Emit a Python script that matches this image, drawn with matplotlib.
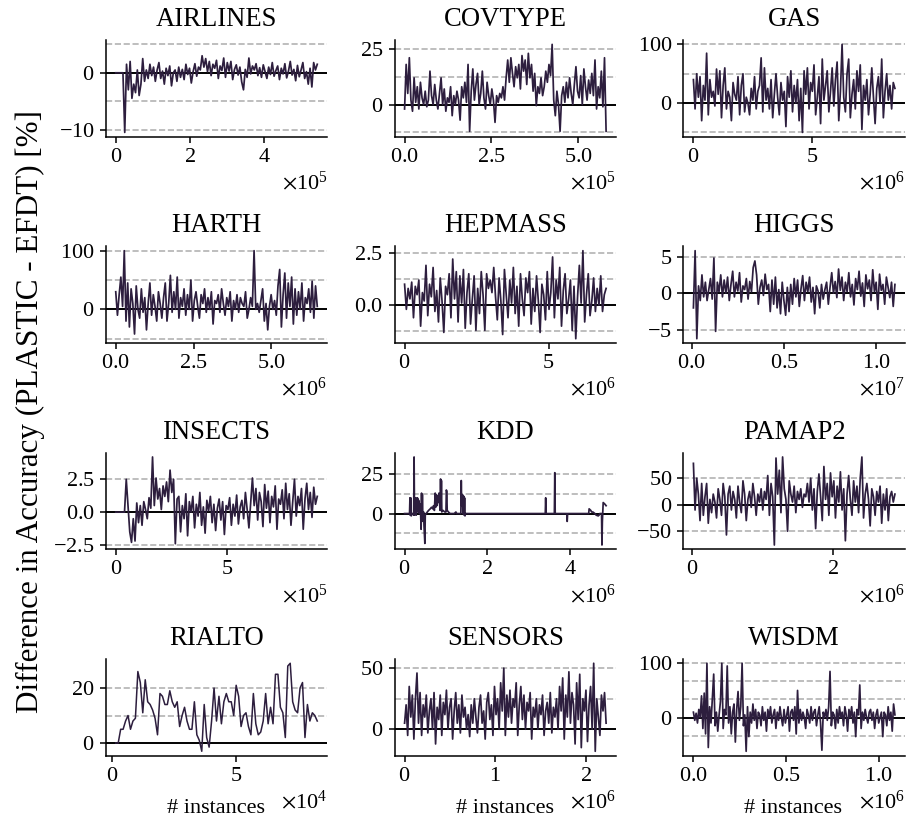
import numpy as np
import matplotlib
matplotlib.use("Agg")
import matplotlib.pyplot as plt

plt.rcParams.update({
    "font.family": "serif",
    "font.serif": ["Liberation Serif", "DejaVu Serif"],
    "mathtext.fontset": "stix",
    "axes.formatter.use_mathtext": True,
    "font.size": 16,
})

datasets = ["AIRLINES", "COVTYPE", "GAS", "HARTH", "HEPMASS", "HIGGS",
            "INSECTS", "KDD", "PAMAP2", "RIALTO", "SENSORS", "WISDM"]

# ---- sampled series: (first instance, last instance) and values (%) ----
airlines_span = [0, 5.42e5]
airlines_diff = [0, 0, 0, 0, 0, -10.5, 1.5, -3, 2, -4.5, -2, -3.5, 0.5, -4, -2, 2.5, -1.5, 0.5, -1, 1.5,
                 -0.5, 1, -1.5, 0.5, 1.8, -1, 0.3, -2, 0.8, -0.5, 1.2, -2.3, 0, 0.5, -1.5, 1, -0.8, 0.6,
                 -1.2, 1.5, -0.3, 0.8, -1.8, 0.2, 1.6, -0.6, 1, 0.5, 3, 1, 2.5, 0.2, 2, -0.5, 1.5, 0.8,
                 2.2, -1, 1.2, 0.4, 2.6, -0.8, 1.8, 0.3, 2, -1.2, 0.6, 1.4, -0.4, 1, -1.6, -3, 0.6, -0.8,
                 2.6, -0.2, 1.2, 0.5, 1.6, -0.5, 0.9, -0.8, 1.4, 0.2, -1, 1, -0.3, 1.8, -0.6, 0.4, 1.2,
                 -1.2, 0.8, -0.2, 1.6, -0.9, 0.3, 2, -0.4, 0.6, -1.4, 1.3, -0.7, 0.5, 1.8, -1, 0.2, -2,
                 0.8, -2.5, 1.8, 0.5, 1.5]

covtype_span = [0, 5.81e5]
covtype_diff = [-2, 18, 5, 21, 2, -3, 12, 1, 8, -2, 10, 3, 0, 6, -1, 2, 15, 4, 0, 9, 2, -2, 5, 12, 0, 7,
                -3, 3, 1, 8, -5, 4, 0, 6, 2, -7, 8, 3, 10, 1, 18, -12, 6, 16, 2, 9, 14, 0, 5, 15, 3, -2,
                10, 4, 0, 7, 2, -8, 4, 1, 5, 3, 8, 2, 12, 20, 10, 21, 14, 8, 17, 12, 18, 7, 22, 15, 20,
                9, 23, 12, 18, 6, 14, -0.5, 8, 5, 12, 4, 8, 15, 10, 18, 13, 27, 2, -5, 6, 0, -12, 4, 8,
                1, 10, 3, 12, 5, 0, 9, 17, 6, 3, 13, 0, 16, 8, 2, 11, 5, 14, 4, 20, -2, 8, 3, 15, -1,
                21, -12]

gas_span = [0, 8.47e6]
gas_diff = [40, -10, 50, 10, 45, -30, 30, 5, 85, -20, 40, 10, 20, -5, 58, 15, 55, -25, 30, 60, -10, 20,
            10, -30, 35, 15, 5, 45, -20, 30, 50, -15, 10, 0, -20, 25, 5, 45, -10, 20, 30, 77, -15, 60, 5,
            25, -10, 40, -25, 15, 50, 10, -20, 35, 5, 20, -40, 45, 10, 55, -15, 30, 0, 40, -30, 25, -50,
            55, 15, 60, -10, 35, 20, 65, -20, 10, 45, -35, 75, 5, 30, 55, -15, 20, 60, -5, 40, 70, -30,
            20, 100, 10, -15, 50, 75, -25, 15, 40, -10, 55, 20, 65, -45, 30, 5, 40, -20, 15, 60, 10,
            -35, 25, 45, 0, 75, -25, 20, 50, 5, 30, -10, 35, 25]

harth_span = [0, 6.47e6]
harth_diff = [30, -10, 25, 55, 5, 100, -20, 45, -30, 35, 10, -42, 40, 0, -15, 35, -5, 20, -35, 10, 45,
              -10, 25, 5, -20, 30, 10, -15, 20, 45, -20, 10, 58, -5, 30, 0, 55, -15, 20, 5, 35, -10, 25,
              0, 50, -20, 15, 30, 5, -15, 25, 10, 35, -5, 20, 0, 30, -25, 15, 10, 25, -5, 35, 10, -10,
              20, 5, 30, -20, 15, 0, 25, -5, 20, 10, 5, 30, -15, 0, 20, 5, 100, 0, 10, -5, 15, 35, -20,
              10, -35, 5, 25, 0, 15, -10, 40, 68, -30, 25, 62, -15, 45, 5, 55, -25, 35, -10, 30, 0, 45,
              -20, 20, 10, 35, -5, 48, -15, 40, 5]

hepmass_span = [0, 7.0e6]
hepmass_diff = [1.0, -0.2, 0.8, 0.3, 1.1, -0.6, 0.9, 0.5, 1.2, -1.0, 0.6, 0.2, 1.9, -0.5, 1.0, 0.4, 1.8,
                -0.3, 0.7, -0.8, 1.3, 0.2, -1.3, 0.9, 0.5, 1.5, -0.6, 2.2, 0.3, 1.6, -0.8, 1.4, 0.1, 1.7,
                -1.1, 0.6, 1.5, -0.9, 0.3, 1.4, -1.2, 0.8, -0.4, 1.6, 0.5, -1.2, 1.5, 0.8, 1.2, 0.6, 1.8,
                0.4, -0.7, 1.3, 0.2, -1.4, 1.7, 0.5, -0.6, 1.2, 0.1, 1.8, -0.4, 0.9, -1.0, 1.5, 0.3, -0.5,
                1.3, 0.6, 1.6, -0.9, 0.8, -0.3, 1.4, 0.2, -1.3, 1.0, 0.5, -0.7, 1.6, -0.2, 0.6, 2.3, -0.6,
                1.2, 0.3, 1.8, -1.0, 0.7, 1.5, -0.4, 0.3, 1.2, -1.2, 0.9, -1.6, 0.4, 1.9, 0.1, 2.6, -0.8,
                0.5, 1.5, -0.5, 0.2, 1.3, -0.3, 0.8, 0.0, 1.4, -0.3, 0.5, 0.8]

higgs_span = [0.01e7, 1.1e7]
higgs_diff = [-2, 5.8, -6.2, 1, -1, 2.5, -0.5, 1.5, -1, 0.5, 2, -0.8, 4.8, -5.2, 1.5, 0.2, 2.5, -0.5, 1.8,
              0, 2.2, -1, 1.2, 3, -0.5, 1.5, 0.3, 2.8, -1.2, 1, 0.5, 2, -0.8, 1.6, 0.2, 3.5, 4.4, 2.5,
              -1.5, 0.8, 1.8, -0.3, 2.6, 0.5, 1.2, -2.5, 1.8, -1.5, 2.2, -2, 0.5, -2.8, 1.5, -1, -3, 0.8,
              -2.5, 1.2, -1.5, 2, -0.5, 1.8, -1.8, 0.6, 2.4, -1, 1.5, 0.2, 2.2, -1.2, 0.8, -2.8, 1, 0.3,
              -2, 1.2, -0.8, 0.5, 1.5, -1.5, 0.8, 2.8, 0, 1.6, -0.6, 3.3, 0.4, 2.2, -1, 1.5, 0.2, 2.8,
              -0.5, 1.2, -1.6, 2, 0.5, 3, -0.4, 1.4, -1.8, 2.5, 0.6, 1.8, -1, 3.2, 0.2, 1.5, -2.2, 2.6,
              0.4, 1.2, -1.5, 2.2, 0.8, -0.6, 1.5, -1.8, 1.2]

insects_span = [0, 9.05e5]
insects_diff = [0, 0, 0, 0, 0, 0, 2.5, 0.5, -1.5, -2.3, -0.5, -2.2, 0.7, -0.8, 0.5, -1, 0.8, 0.2, -0.5,
                1.1, 0.3, 4.2, 0.5, 2.6, 1.0, 1.8, 0.2, 2.0, 1.2, 2.3, 0.8, 3.2, 1.5, 2.5, -2.4, 1.0, 1.2,
                -1.5, 0.5, -0.5, 1.4, -1.8, 0.8, 0, 1.2, -1.2, 0.6, -0.3, 1.5, -1.0, 0.4, -1.6, 0.9, 0.1,
                1.2, -0.8, 0.6, -1.4, 0.3, 1.0, -0.6, 0.8, -1.7, 0.5, 0.2, 1.1, -1.0, 0.6, -0.3, 1.3,
                -0.9, 0.4, 0.9, -0.5, 1.5, 0.2, -1.2, 0.7, 2.6, 0.5, 1.8, -0.6, 1.5, 0.8, -1.1, 2.1, 0.3,
                1.6, -0.8, 1.2, 0.4, 2.0, -1.3, 1.0, 0.6, 1.7, -0.5, 2.2, 0.2, 1.4, -1.0, 0.8, 2.5, -0.3,
                1.2, 0.5, 1.8, -1.3, 1.0, 2.2, 0.2, 1.5, -0.4, 1.9, 0.6, 1.2]

# KDD is mostly flat, so it is given with explicit instance positions (millions)
kdd_x_millions = [0.0, 0.12, 0.13, 0.135, 0.15, 0.16, 0.18, 0.21, 0.22, 0.23, 0.24, 0.25, 0.26, 0.27, 0.28,
                  0.29, 0.30, 0.31, 0.32, 0.33, 0.34, 0.35, 0.36, 0.38, 0.40, 0.41, 0.42, 0.43, 0.44, 0.46,
                  0.47, 0.49, 0.50, 0.52, 0.55, 0.58, 0.62, 0.65, 0.68, 0.70, 0.72, 0.74, 0.75, 0.77, 0.78,
                  0.80, 0.81, 0.83, 0.84, 0.86, 0.87, 0.88, 0.89, 0.90, 0.93, 0.97, 1.00, 1.01, 1.02, 1.03,
                  1.06, 1.10, 1.20, 1.24, 1.26, 1.36, 1.37, 1.38, 1.40, 1.41, 1.43, 1.44, 1.45, 1.46, 1.47,
                  3.40, 3.41, 3.42, 3.62, 3.63, 3.64, 3.92, 3.93, 3.94, 4.45, 4.46, 4.50, 4.52, 4.55, 4.60,
                  4.63, 4.68, 4.70, 4.72, 4.76, 4.77, 4.78, 4.80, 4.84, 4.87]
kdd_diff = [0, 0, 10, -1, 10, -1.5, 0, 0, -1, 36, -1, 9, 2, 10, -1, 8, 2, 10, 1, 9, 3, 8, 0, 6, -10, 13,
            -5, 12, -1, 1, -8, -19, -1, 0, 1, 2, 3, 4, 3, 5, 2, 13, 4, 12, 5, 11, 7, 13, 8, 2, 22, 3, 21,
            1, 2, 1, 1, 15, 14, 2, 1, 0, 0, 1, 0, 0, 21, 5, 12, 0, 11, -1, 10, -1.5, 0, 0, 10, 0, 0, 26,
            0, 0, -5, 0, 0, 3, 2, 1, 1, 0, -1, -1.5, -1, 0, 0, -20, -5, 7, 6, 5]

pamap2_span = [0.02e6, 2.88e6]
pamap2_diff = [78, -10, 50, 20, -30, 40, -20, 15, 40, -35, 10, -15, 20, 5, -25, 30, 10, -20, 40, 15, -57,
               20, 35, -10, 25, 10, -25, 35, 5, -15, 45, 20, -30, 10, 25, -5, 40, 15, -20, 20, 5, 30, -10,
               25, 10, 55, -20, 40, 15, -76, 88, 20, 65, -15, 90, 30, 10, -50, 45, 20, 5, 35, -15, 25, 10,
               30, -5, 20, 15, 40, 5, 50, -10, 30, -45, 25, 58, 15, -30, 72, 10, 40, -20, 60, 15, 45, -25,
               35, 5, 62, -10, 30, -68, 20, 55, 10, -20, 45, 5, 35, -15, 50, 90, -25, 20, 40, 10, -40, 30,
               15, -20, 25, 5, 35, -35, 20, -10, 30, -30, 15, 25, 5, 20]

rialto_span = [0.14e4, 8.27e4]
rialto_diff = [0, 0, 5, 5, 8, 10, 5, 8, 9, 26, 22, 11, 23, 15, 14, 12, 9, 3, 18, 17, 14, 14, 19, 15, 13,
               15, 6, 10, 13, 8, 5, 5, 15, 3, 1, -3, 14, 2, -1.5, 8, 20, 8, 17, 7, 15, 18, 15, 15, 10, 21,
               17, 6, 10, 11, 6, 3, 18, 7, 3, 4, 8, 18, 7, 13, 7, 25, 25, 13, 11, 2, 28, 29, 15, 12, 11,
               20, 22, 2, 14, 8, 11, 10, 8]

sensors_span = [0, 2.22e6]
sensors_diff = [5, 20, -5, 35, 10, 28, -8, 25, 46, 5, 30, -5, 20, 10, 28, -3, 15, 25, 0, 30, -12, 18, 8,
                28, -5, 22, 12, 32, 0, 18, 25, -8, 15, 30, 5, 20, -3, 28, 10, 18, 0, 12, -6, 20, 5, 25, 10,
                -3, 18, 28, 5, 15, -8, 22, 30, 8, 20, -5, 35, 12, 25, 0, 38, 15, 50, -5, 28, 10, 32, 5, 25,
                18, 38, -5, 20, 35, 8, 28, 0, 22, 15, 30, -8, 18, 10, 25, 0, 20, 12, 28, -5, 15, 22, 5, 30,
                -3, 18, 10, 25, 0, 35, 15, 42, -8, 28, 10, 47, 5, 30, 20, -12, 38, 8, 45, -15, 25, 15, 32,
                -10, 20, 35, 0, 54, -18, 25, 10, -5, 28, 15, 30, 5]

wisdm_span = [0, 1.087e6]
wisdm_diff = [10, -5, 8, -10, 15, 0, 40, -20, 45, -30,
              100, -55, 20, -10, 35, 80, -15, 10, -25, 5,
              30, 100, -20, 15, 5, 95, -10, 20, -30, 10,
              25, -45, 15, 48, -5, 20, 100, -15, 5, -62,
              20, -35, 10, -10, 25, -5, 15, -20, 10, 5,
              -15, 20, -5, 10, -25, 15, 0, 20, -10, 5,
              15, -20, 10, -5, 20, 0, -15, 15, -10, 5,
              20, -25, 10, 15, -5, 20, -30, 50, -10, 15,
              -5, 10, 0, -20, 15, 5, -10, 20, -5, 10,
              15, -15, 5, 20, -10, -60, 10, 0, 15, -5,
              20, 85, -15, 10, 5, -20, 15, -10, 20, 0,
              10, -15, 20, 5, -25, 15, 0, 20, -10, 10,
              -35, 15, 5, 60, -20, 10, -5, 15, 0, -10,
              10, 15, -5, 10, -20, 5, 15, -10, 0, 10,
              -35, 10, 5, -15, 20, -5, 10, -25, 25, 5]

# ---- dashed reference levels per panel ----
airlines_ref = [5, -5, -10]
covtype_ref = [25, 12.5, -12.5]
gas_ref = [100, 50, -50]
harth_ref = [100, 50, -50]
hepmass_ref = [2.5, 1.25, -1.25]
higgs_ref = [5, -5]
insects_ref = [2.5, -2.5]
kdd_ref = [25, 12.5, -12.5]
pamap2_ref = [50, -50]
rialto_ref = [20, 10]
sensors_ref = [50, 25]
wisdm_ref = [100, 66.67, 33.33, -33.33]


def grid(span, vals):
    return np.linspace(span[0], span[1], len(vals)), np.asarray(vals, float)


series = [
    grid(airlines_span, airlines_diff),
    grid(covtype_span, covtype_diff),
    grid(gas_span, gas_diff),
    grid(harth_span, harth_diff),
    grid(hepmass_span, hepmass_diff),
    grid(higgs_span, higgs_diff),
    grid(insects_span, insects_diff),
    (np.asarray(kdd_x_millions) * 1e6, np.asarray(kdd_diff, float)),
    grid(pamap2_span, pamap2_diff),
    grid(rialto_span, rialto_diff),
    grid(sensors_span, sensors_diff),
    grid(wisdm_span, wisdm_diff),
]
refs = [airlines_ref, covtype_ref, gas_ref, harth_ref, hepmass_ref, higgs_ref,
        insects_ref, kdd_ref, pamap2_ref, rialto_ref, sensors_ref, wisdm_ref]

LINE = "#2d1e3e"

fig, axes = plt.subplots(4, 3, figsize=(9.07, 8.23), dpi=100)
fig.subplots_adjust(left=0.1165, right=0.9978, bottom=0.0818, top=0.9514,
                    wspace=0.303, hspace=1.131)

for i, ax in enumerate(axes.flat):
    x, y = series[i]
    n = min(len(x), len(y))
    ax.plot(x[:n], y[:n], color=LINE, lw=1.25 if i != 9 else 1.1, zorder=3)
    for lev in refs[i]:
        ax.axhline(lev, color="#b3b3b3", lw=1.2, ls="--", zorder=1)
    ax.axhline(0, color="black", lw=1.4, zorder=2)
    ax.relim()
    ax.autoscale_view()
    ax.set_title(datasets[i], fontsize=19.2, pad=10)
    ax.ticklabel_format(axis="x", style="sci", scilimits=(0, 0), useMathText=True)
    for s in ("top", "right"):
        ax.spines[s].set_visible(False)
    for s in ("left", "bottom"):
        ax.spines[s].set_linewidth(1.1)
    ax.tick_params(direction="out", length=4.5, width=1.1, labelsize=16)
    if i >= 9:
        ax.set_xlabel("# instances", fontsize=16, ha="right", va="center")
        ax.xaxis.set_label_coords(0.718, -0.545)

fig.text(0.033, 0.5, "Difference in Accuracy (PLASTIC - EFDT) [%]", rotation=90,
         ha="center", va="center", fontsize=22.4)

fig.savefig("out.png", dpi=100)
